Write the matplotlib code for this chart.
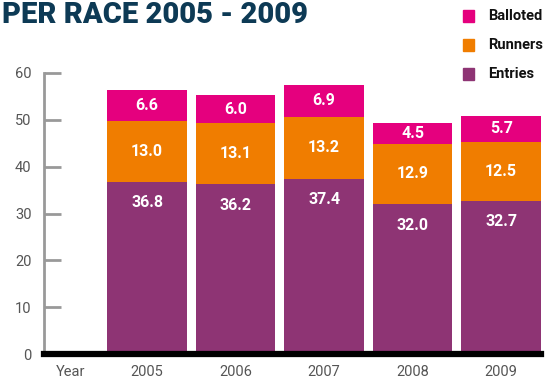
import matplotlib
matplotlib.use("Agg")
import matplotlib.pyplot as plt
import numpy as np
from matplotlib.patches import Rectangle

years = ["2005", "2006", "2007", "2008", "2009"]
entries = [36.8, 36.2, 37.4, 32.0, 32.7]
runners = [13.0, 13.1, 13.2, 12.9, 12.5]
balloted = [6.6, 6.0, 6.9, 4.5, 5.7]

c_entries = "#8e3474"
c_runners = "#f07d00"
c_balloted = "#e5007e"
grey = "#555555"

plt.rcParams['font.family'] = ['Roboto', 'DejaVu Sans']

fig = plt.figure(figsize=(5.53, 3.80), dpi=100)
ax = fig.add_axes([44 / 553, 26 / 380, (541 - 44) / 553, 281 / 380])

x = np.arange(len(years))
w = 0.9
ax.bar(x, entries, w, color=c_entries, zorder=2)
ax.bar(x, runners, w, bottom=entries, color=c_runners, zorder=2)
tops = np.array(entries) + np.array(runners)
ax.bar(x, balloted, w, bottom=tops, color=c_balloted, zorder=2)

for i in range(len(years)):
    ax.text(x[i], entries[i] - 4.5, f"{entries[i]:.1f}", ha="center", va="center",
            color="white", fontsize=11.5, fontweight="bold")
    ax.text(x[i], entries[i] + runners[i] / 2, f"{runners[i]:.1f}", ha="center",
            va="center", color="white", fontsize=11.5, fontweight="bold")
    ax.text(x[i], tops[i] + balloted[i] / 2, f"{balloted[i]:.1f}", ha="center",
            va="center", color="white", fontsize=11.5, fontweight="bold")

ax.set_xlim(-1.165, 4.45)
ax.set_ylim(0, 60)
ax.set_yticks(range(0, 61, 10))
ax.set_xticks(x)
ax.set_xticklabels(years)
ax.tick_params(axis="y", direction="in", length=12, width=2, color="#999999",
               labelcolor=grey, labelsize=10.5, pad=9)
ax.tick_params(axis="x", length=0, labelcolor=grey, labelsize=10.5, pad=8)
for s in ["top", "right", "bottom"]:
    ax.spines[s].set_visible(False)
ax.spines["left"].set_color("#999999")
ax.spines["left"].set_linewidth(2)
ax.axhline(0, color="black", lw=4.5, zorder=3, clip_on=False)
ax.text(-0.87, -0.04, "Year", transform=ax.get_xaxis_transform(), ha="center",
        va="top", color=grey, fontsize=10.5)

fig.text(2 / 553, 0.997, "PER RACE 2005 - 2009", ha="left", va="top", color="#0d3a55",
         fontsize=21, fontweight="heavy")

legend = [("Balloted", c_balloted), ("Runners", c_runners), ("Entries", c_entries)]
for k, (lab, col) in enumerate(legend):
    yy = 1 - (16 + 29 * k) / 380
    fig.patches.append(Rectangle((463 / 553, yy - 6 / 380), 11 / 553, 12 / 380,
                                 transform=fig.transFigure, color=col))
    fig.text(488 / 553, yy, lab, ha="left", va="center", color="#111111",
             fontsize=10.5, fontweight="bold")

fig.savefig("out.png", dpi=100)
